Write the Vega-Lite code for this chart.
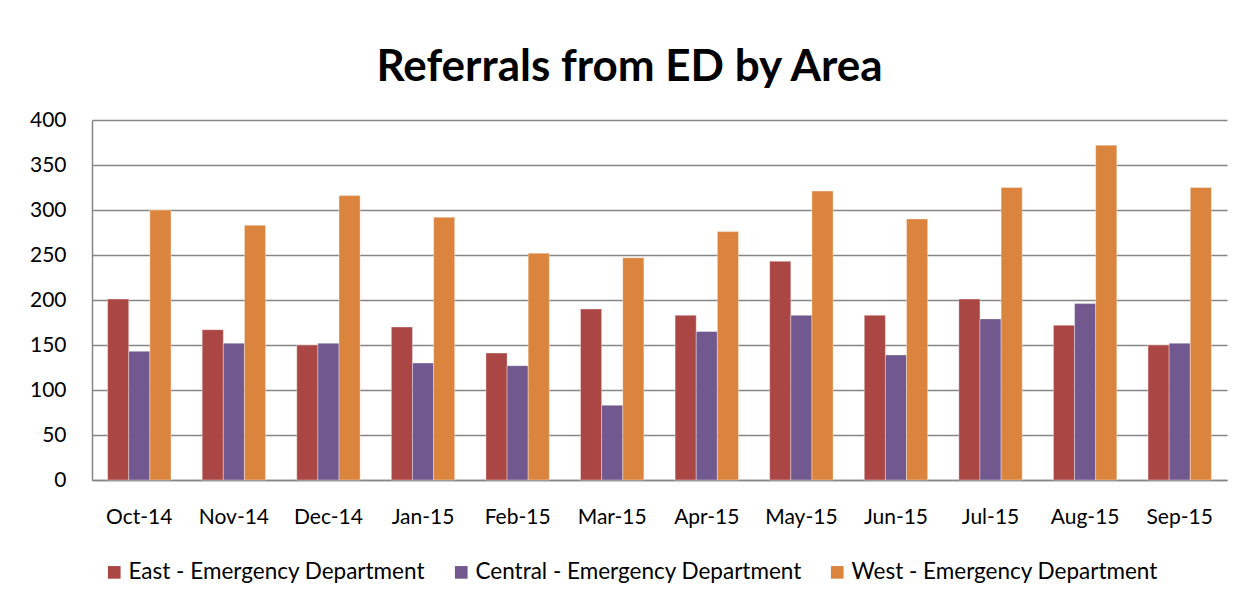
{
  "$schema": "https://vega.github.io/schema/vega-lite/v6.json",
  "width": 1135,
  "height": 360,
  "autosize": {"type": "none"},
  "padding": {"left": 92, "top": 120, "right": 30, "bottom": 125},
  "background": "white",
  "title": {
    "text": "Referrals from ED by Area",
    "font": "Lato",
    "fontSize": 44,
    "fontWeight": "bold",
    "color": "#000000",
    "anchor": "middle",
    "dx": -30,
    "offset": 19
  },
  "data": {
    "values": [
      {"month": "Oct-14", "area": "East - Emergency Department", "value": 201},
      {"month": "Oct-14", "area": "Central - Emergency Department", "value": 143},
      {"month": "Oct-14", "area": "West - Emergency Department", "value": 300},
      {"month": "Nov-14", "area": "East - Emergency Department", "value": 167},
      {"month": "Nov-14", "area": "Central - Emergency Department", "value": 152},
      {"month": "Nov-14", "area": "West - Emergency Department", "value": 283},
      {"month": "Dec-14", "area": "East - Emergency Department", "value": 150},
      {"month": "Dec-14", "area": "Central - Emergency Department", "value": 152},
      {"month": "Dec-14", "area": "West - Emergency Department", "value": 316},
      {"month": "Jan-15", "area": "East - Emergency Department", "value": 170},
      {"month": "Jan-15", "area": "Central - Emergency Department", "value": 130},
      {"month": "Jan-15", "area": "West - Emergency Department", "value": 292},
      {"month": "Feb-15", "area": "East - Emergency Department", "value": 141},
      {"month": "Feb-15", "area": "Central - Emergency Department", "value": 127},
      {"month": "Feb-15", "area": "West - Emergency Department", "value": 252},
      {"month": "Mar-15", "area": "East - Emergency Department", "value": 190},
      {"month": "Mar-15", "area": "Central - Emergency Department", "value": 83},
      {"month": "Mar-15", "area": "West - Emergency Department", "value": 247},
      {"month": "Apr-15", "area": "East - Emergency Department", "value": 183},
      {"month": "Apr-15", "area": "Central - Emergency Department", "value": 165},
      {"month": "Apr-15", "area": "West - Emergency Department", "value": 276},
      {"month": "May-15", "area": "East - Emergency Department", "value": 243},
      {"month": "May-15", "area": "Central - Emergency Department", "value": 183},
      {"month": "May-15", "area": "West - Emergency Department", "value": 321},
      {"month": "Jun-15", "area": "East - Emergency Department", "value": 183},
      {"month": "Jun-15", "area": "Central - Emergency Department", "value": 139},
      {"month": "Jun-15", "area": "West - Emergency Department", "value": 290},
      {"month": "Jul-15", "area": "East - Emergency Department", "value": 201},
      {"month": "Jul-15", "area": "Central - Emergency Department", "value": 179},
      {"month": "Jul-15", "area": "West - Emergency Department", "value": 325},
      {"month": "Aug-15", "area": "East - Emergency Department", "value": 172},
      {"month": "Aug-15", "area": "Central - Emergency Department", "value": 196},
      {"month": "Aug-15", "area": "West - Emergency Department", "value": 372},
      {"month": "Sep-15", "area": "East - Emergency Department", "value": 150},
      {"month": "Sep-15", "area": "Central - Emergency Department", "value": 152},
      {"month": "Sep-15", "area": "West - Emergency Department", "value": 325}
    ]
  },
  "mark": {"type": "bar", "stroke": "#ffffff", "strokeWidth": 0.6, "strokeOpacity": 0.6},
  "encoding": {
    "x": {
      "field": "month",
      "type": "nominal",
      "sort": null,
      "scale": {"paddingInner": 0.33, "paddingOuter": 0.165},
      "axis": {
        "title": null,
        "labelAngle": 0,
        "labelFont": "Lato",
        "labelFontSize": 21,
        "labelColor": "#000000",
        "labelPadding": 26,
        "ticks": false,
        "domainColor": "#868686",
        "domainWidth": 1.5
      }
    },
    "xOffset": {
      "field": "area",
      "type": "nominal",
      "sort": ["East - Emergency Department", "Central - Emergency Department", "West - Emergency Department"],
      "scale": {"paddingInner": 0, "paddingOuter": 0}
    },
    "y": {
      "field": "value",
      "type": "quantitative",
      "scale": {"domain": [0, 400], "nice": false},
      "axis": {
        "title": null,
        "values": [0, 50, 100, 150, 200, 250, 300, 350, 400],
        "labelFont": "Lato",
        "labelFontSize": 21,
        "labelColor": "#000000",
        "labelPadding": 26,
        "ticks": false,
        "grid": true,
        "gridColor": "#868686",
        "gridWidth": 1.3,
        "domainColor": "#868686",
        "domainWidth": 1.5
      }
    },
    "color": {
      "field": "area",
      "type": "nominal",
      "sort": ["East - Emergency Department", "Central - Emergency Department", "West - Emergency Department"],
      "scale": {
        "domain": ["East - Emergency Department", "Central - Emergency Department", "West - Emergency Department"],
        "range": ["#AA4643", "#71588F", "#DB843D"]
      },
      "legend": {
        "title": null,
        "orient": "none",
        "direction": "horizontal",
        "legendX": 11,
        "legendY": 441,
        "symbolType": "square",
        "symbolSize": 160,
        "symbolStrokeWidth": 0,
        "labelFont": "Lato",
        "labelFontSize": 22.5,
        "labelColor": "#000000",
        "labelLimit": 0,
        "columnPadding": 24,
        "labelOffset": 3
      }
    }
  },
  "config": {
    "view": {"stroke": null}
  }
}
